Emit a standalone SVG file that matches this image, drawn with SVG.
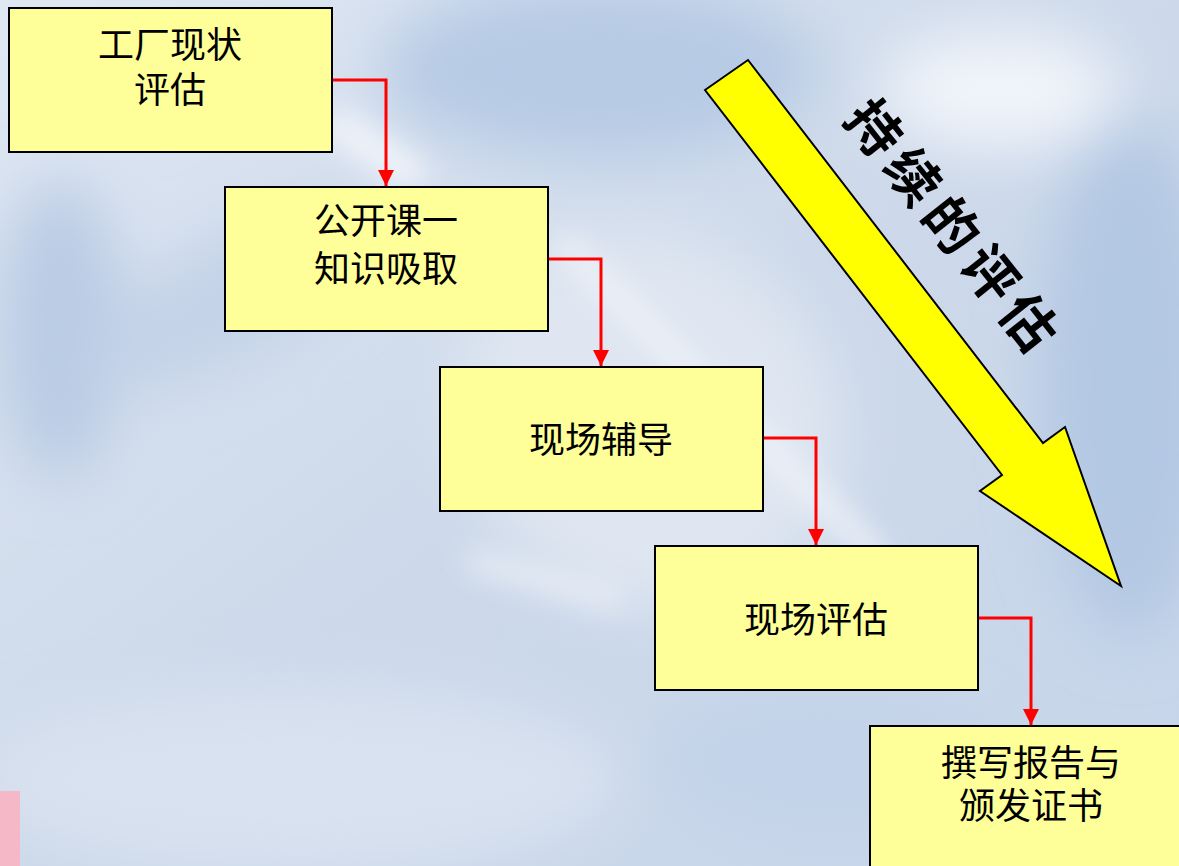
<svg xmlns="http://www.w3.org/2000/svg" width="1179" height="866" viewBox="0 0 1179 866">
<defs>
<style>
.box{fill:#ffff99;stroke:#000;stroke-width:2}
.lbl{font-family:"Noto Sans CJK SC","Noto Sans",sans-serif;font-size:36px;fill:#000;text-anchor:middle}
.con{fill:none;stroke:#ff0000;stroke-width:3}
</style>
<marker id="ah" viewBox="0 0 10 10" refX="10" refY="5" markerWidth="5.5" markerHeight="5.5" markerUnits="strokeWidth" orient="auto">
<path d="M0,0 L10,5 L0,10 z" fill="#ff0000"/>
</marker>
<linearGradient id="bg" x1="0" y1="0" x2="1" y2="1">
<stop offset="0" stop-color="#dfe7f3"/>
<stop offset="0.5" stop-color="#cdd9ea"/>
<stop offset="1" stop-color="#c6d5ea"/>
</linearGradient>
<filter id="blur" x="-50%" y="-50%" width="200%" height="200%"><feGaussianBlur stdDeviation="30"/></filter>
<filter id="blur2" x="-50%" y="-50%" width="200%" height="200%"><feGaussianBlur stdDeviation="14"/></filter>
</defs>
<g id="background">
<rect width="1179" height="866" fill="url(#bg)"/>
<g filter="url(#blur)">
<ellipse cx="600" cy="70" rx="220" ry="90" fill="#b7cbe5"/>
<ellipse cx="1130" cy="380" rx="90" ry="260" fill="#b3c8e3"/>
<ellipse cx="60" cy="330" rx="60" ry="150" fill="#b9cbe4"/>
<ellipse cx="650" cy="420" rx="200" ry="180" fill="#dfe6f1" transform="rotate(40 650 420)"/>
<ellipse cx="300" cy="780" rx="320" ry="90" fill="#d9e2f0"/>
<ellipse cx="1000" cy="90" rx="120" ry="60" fill="#f0f4fa"/>
<ellipse cx="230" cy="300" rx="160" ry="60" fill="#c4d3e8" transform="rotate(-30 230 300)"/>
<ellipse cx="820" cy="760" rx="160" ry="70" fill="#c3d3e9"/>
</g>
<g filter="url(#blur2)">
<path d="M560 240 L880 560" stroke="#eef2f8" stroke-width="22" fill="none"/>
<path d="M470 560 L620 600" stroke="#eef2f8" stroke-width="16" fill="none"/>
<path d="M330 120 L420 180" stroke="#f2f5fa" stroke-width="30" fill="none"/>
</g>
<rect x="0" y="791" width="20" height="75" fill="#f5b8c6"/>
</g>
<g id="connectors">
<polyline class="con" points="332,80 386,80 386,186" marker-end="url(#ah)"/>
<polyline class="con" points="548,259 601,259 601,366" marker-end="url(#ah)"/>
<polyline class="con" points="763,438 816,438 816,545" marker-end="url(#ah)"/>
<polyline class="con" points="978,618 1031,618 1031,725" marker-end="url(#ah)"/>
</g>
<g id="big-arrow">
<polygon points="705,90 748,60 1043,443 1065,427 1121,586 980,491 1002,475" fill="#ffff00" stroke="#000" stroke-width="2" stroke-linejoin="miter"/>
<text x="0" y="0" transform="translate(957,226) rotate(51.5)" font-family="'Noto Sans CJK SC',sans-serif" font-weight="bold" font-size="54" letter-spacing="8" text-anchor="middle" dominant-baseline="central" fill="#000">持续的评估</text>
</g>
<g id="node1">
<rect class="box" x="9" y="8" width="323" height="144"/>
<text class="lbl" x="170" y="58">工厂现状</text>
<text class="lbl" x="170" y="103">评估</text>
</g>
<g id="node2">
<rect class="box" x="225" y="187" width="323" height="144"/>
<text class="lbl" x="386" y="234">公开课一</text>
<text class="lbl" x="386" y="282">知识吸取</text>
</g>
<g id="node3">
<rect class="box" x="440" y="367" width="323" height="144"/>
<text class="lbl" x="601" y="453">现场辅导</text>
</g>
<g id="node4">
<rect class="box" x="655" y="546" width="323" height="144"/>
<text class="lbl" x="816" y="633">现场评估</text>
</g>
<g id="node5">
<rect class="box" x="870" y="726" width="323" height="144"/>
<text class="lbl" x="1031" y="776">撰写报告与</text>
<text class="lbl" x="1031" y="819">颁发证书</text>
</g>
</svg>
